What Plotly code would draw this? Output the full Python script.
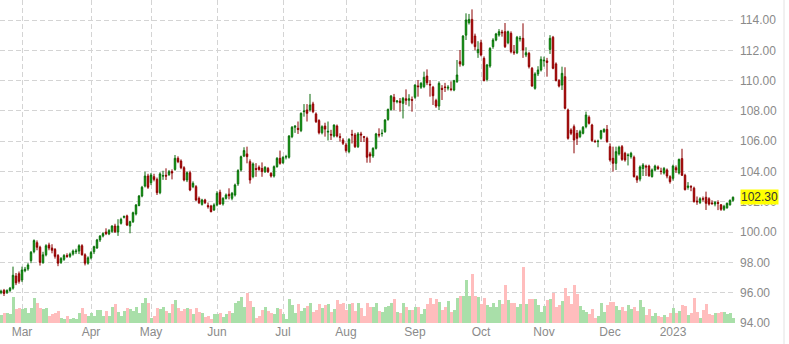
import pandas as pd
import plotly.graph_objects as go

# trading days (weekends and exchange holidays removed)
holidays = ["2022-04-15", "2022-12-26", "2023-01-02"]
dates = [d.strftime("%Y-%m-%d") for d in pd.bdate_range("2022-02-18", "2023-01-31")
         if d.strftime("%Y-%m-%d") not in holidays]

open_ = [96.00, 96.15, 96.00, 96.15, 96.30, 97.10, 97.25, 96.84, 97.45, 97.57,
         98.12, 98.71, 99.30, 99.00, 98.00, 98.50, 99.15, 98.95, 98.85, 98.45,
         98.00, 98.20, 98.45, 98.40, 98.55, 98.70, 98.75, 99.10, 98.50, 97.95,
         98.30, 98.70, 98.95, 99.48, 99.74, 100.00, 99.88, 100.05, 100.40, 100.00,
         100.58, 100.98, 101.07, 100.40, 100.69, 101.20, 101.76, 102.38, 103.04, 103.70,
         103.26, 103.66, 103.48, 102.60, 103.70, 103.75, 103.80, 104.00, 104.14, 104.87,
         104.69, 104.25, 103.44, 103.92, 103.00, 103.00, 102.23, 101.83, 102.12, 101.75,
         101.72, 101.46, 101.79, 102.63, 101.86, 102.23, 102.50, 102.23, 102.45, 103.18,
         104.10, 105.02, 105.16, 104.65, 103.66, 104.20, 104.28, 104.20, 103.99, 104.20,
         103.88, 103.70, 104.32, 104.87, 104.58, 104.95, 104.94, 106.30, 106.92, 106.85,
         106.70, 107.95, 108.06, 108.06, 108.46, 107.80, 107.36, 106.56, 107.00, 106.60,
         106.45, 106.34, 107.00, 106.30, 106.08, 105.75, 105.31, 106.45, 106.41, 105.64,
         106.48, 106.30, 106.19, 105.16, 105.02, 105.53, 106.45, 106.50, 106.63, 107.44,
         108.10, 108.90, 108.61, 108.65, 108.50, 108.80, 108.70, 108.75, 108.90, 109.65,
         109.56, 109.60, 110.30, 109.75, 109.56, 108.68, 108.32, 109.49, 109.58, 109.50,
         109.45, 109.38, 109.93, 111.25, 111.03, 113.00, 113.82, 114.04, 112.94, 111.84,
         112.50, 111.47, 110.08, 110.96, 112.24, 112.68, 113.01, 113.20, 113.23, 112.50,
         113.12, 111.90, 111.84, 112.75, 112.79, 111.69, 111.80, 110.81, 109.49, 110.44,
         110.70, 111.30, 111.30, 112.06, 112.86, 111.10, 110.00, 109.71, 110.26, 108.06,
         106.74, 106.96, 106.52, 106.30, 106.52, 106.96, 107.58, 107.07, 106.00, 105.97,
         106.19, 106.63, 106.78, 105.64, 104.87, 104.54, 105.16, 105.64, 105.20, 105.05,
         104.98, 104.94, 103.66, 103.50, 104.20, 104.35, 104.36, 103.66, 104.10, 104.30,
         104.02, 103.90, 104.10, 103.66, 103.55, 104.25, 103.90, 104.85, 103.75, 102.95,
         103.00, 102.90, 102.05, 101.95, 102.20, 102.30, 102.20, 101.92, 101.85, 101.95,
         101.80, 101.50, 101.60, 101.80, 102.10]

high = [96.20, 96.25, 96.22, 96.38, 97.72, 97.30, 97.40, 97.72, 97.70, 97.95,
        98.75, 99.52, 99.45, 99.10, 98.70, 99.20, 99.30, 99.20, 98.95, 98.55,
        98.35, 98.55, 98.60, 98.65, 98.85, 98.90, 99.20, 99.20, 98.60, 98.40,
        98.75, 99.10, 99.55, 99.80, 100.00, 100.25, 100.20, 100.45, 100.55, 100.85,
        100.95, 101.10, 101.15, 100.75, 101.35, 101.85, 102.45, 103.05, 103.99, 103.85,
        103.90, 103.85, 103.60, 103.95, 104.05, 104.21, 104.10, 104.14, 105.09, 105.00,
        104.80, 104.35, 104.00, 104.05, 103.35, 103.10, 102.35, 102.20, 102.20, 101.95,
        101.80, 101.90, 102.70, 102.80, 102.30, 102.55, 102.89, 102.65, 103.20, 104.15,
        105.05, 105.60, 105.64, 104.80, 104.60, 104.55, 104.40, 104.60, 104.35, 104.30,
        103.95, 104.40, 104.95, 105.38, 105.00, 105.10, 106.40, 107.00, 107.05, 107.30,
        107.90, 108.45, 108.45, 109.12, 108.60, 107.90, 107.45, 107.05, 107.22, 107.30,
        106.75, 107.10, 107.10, 106.52, 106.20, 105.90, 106.20, 106.75, 106.55, 106.60,
        106.62, 106.35, 106.30, 105.30, 105.60, 106.55, 106.85, 106.78, 107.45, 108.15,
        109.05, 109.12, 108.72, 108.85, 108.92, 109.42, 109.10, 108.95, 109.75, 110.04,
        109.90, 110.59, 110.74, 110.04, 109.65, 108.80, 109.95, 109.70, 109.85, 109.70,
        109.95, 110.05, 111.36, 112.02, 113.00, 114.44, 114.40, 114.70, 113.10, 112.60,
        112.70, 111.60, 111.10, 112.20, 112.80, 113.15, 113.40, 113.35, 113.80, 113.30,
        113.25, 112.35, 112.95, 112.95, 113.78, 112.20, 111.90, 110.90, 110.55, 110.95,
        111.60, 111.58, 111.50, 113.00, 112.95, 111.20, 110.10, 110.92, 110.88, 108.15,
        106.85, 107.10, 106.74, 106.75, 107.00, 107.95, 107.70, 107.15, 106.10, 106.10,
        106.75, 106.85, 107.07, 105.86, 105.64, 105.64, 105.70, 105.75, 105.30, 105.20,
        105.30, 105.05, 103.75, 104.40, 104.55, 104.45, 104.45, 104.20, 104.45, 104.40,
        104.25, 104.30, 104.20, 103.75, 104.45, 104.40, 104.85, 105.50, 103.85, 103.30,
        103.10, 103.00, 102.35, 102.30, 102.35, 102.67, 102.30, 102.10, 102.05, 102.10,
        101.85, 101.80, 101.95, 102.15, 102.35]

low = [95.90, 95.78, 95.92, 96.05, 96.20, 96.50, 96.60, 96.70, 97.35, 97.45,
       97.95, 98.60, 98.80, 97.79, 97.90, 98.40, 98.80, 98.60, 98.25, 97.75,
       97.90, 98.10, 98.30, 98.30, 98.45, 98.55, 98.55, 98.45, 97.80, 97.85,
       98.20, 98.55, 98.90, 99.35, 99.65, 99.80, 99.80, 99.95, 99.95, 99.75,
       100.50, 100.90, 100.40, 99.92, 100.60, 101.10, 101.70, 102.30, 102.95, 102.85,
       103.10, 103.35, 102.45, 102.50, 103.45, 103.44, 103.70, 103.48, 104.05, 104.55,
       104.15, 103.35, 103.30, 102.70, 102.90, 102.05, 101.85, 101.75, 101.85, 101.55,
       101.30, 101.40, 101.70, 101.80, 101.75, 102.15, 102.16, 102.10, 102.35, 103.05,
       104.00, 104.95, 104.54, 103.20, 103.55, 103.65, 104.05, 103.65, 103.90, 103.90,
       103.60, 103.60, 104.25, 104.45, 104.50, 104.80, 104.85, 106.20, 106.55, 106.48,
       106.60, 107.62, 107.30, 107.95, 107.85, 107.20, 106.45, 106.45, 106.30, 106.05,
       106.08, 106.25, 106.25, 105.98, 105.75, 105.25, 105.20, 105.85, 105.55, 105.55,
       105.95, 105.95, 104.58, 104.58, 104.90, 105.45, 106.25, 106.30, 106.55, 107.35,
       108.00, 108.05, 108.50, 107.95, 107.50, 108.40, 108.30, 107.95, 108.80, 108.94,
       109.45, 109.50, 109.70, 108.94, 108.39, 108.20, 108.05, 108.72, 109.25, 109.35,
       109.30, 109.30, 109.85, 110.92, 110.95, 112.68, 113.70, 112.40, 112.00, 111.50,
       111.60, 109.95, 109.95, 110.85, 112.10, 112.60, 112.90, 112.90, 112.15, 112.40,
       111.80, 111.70, 111.75, 112.58, 111.50, 111.55, 110.80, 109.60, 109.40, 110.30,
       110.60, 110.92, 110.26, 111.76, 110.75, 109.95, 109.55, 109.38, 108.10, 106.10,
       106.40, 105.20, 105.75, 106.20, 106.45, 106.85, 107.10, 105.95, 105.90, 105.60,
       106.10, 106.55, 105.90, 104.65, 103.99, 104.10, 105.05, 104.70, 104.65, 104.40,
       104.85, 103.60, 103.25, 103.35, 103.70, 103.70, 103.65, 103.60, 104.00, 104.10,
       103.80, 103.80, 103.55, 103.20, 103.40, 103.90, 103.80, 103.70, 102.75, 102.80,
       102.70, 101.95, 101.80, 101.85, 102.00, 101.46, 101.75, 101.80, 101.70, 101.45,
       101.40, 101.40, 101.55, 101.75, 102.00]

close = [96.10, 95.95, 96.15, 96.30, 97.15, 96.65, 96.75, 97.50, 97.55, 97.83,
         98.67, 99.44, 99.00, 98.00, 98.50, 99.10, 98.95, 98.80, 98.40, 97.95,
         98.25, 98.45, 98.40, 98.55, 98.75, 98.75, 99.10, 98.50, 97.95, 98.30,
         98.65, 99.04, 99.48, 99.74, 99.90, 99.90, 100.10, 100.40, 100.02, 100.40,
         100.84, 101.02, 100.47, 100.69, 101.28, 101.79, 102.38, 102.96, 103.70, 102.96,
         103.77, 103.48, 102.60, 103.84, 103.72, 103.70, 103.99, 103.90, 104.87, 104.65,
         104.25, 103.44, 103.92, 102.78, 103.22, 102.12, 101.94, 102.12, 101.94, 101.68,
         101.35, 101.79, 102.56, 101.86, 102.23, 102.45, 102.40, 102.56, 103.11, 104.06,
         104.98, 105.38, 104.98, 103.44, 104.50, 104.14, 104.14, 103.99, 104.28, 103.99,
         103.70, 104.32, 104.87, 104.54, 104.94, 104.98, 106.34, 106.92, 107.00, 106.78,
         107.84, 107.99, 107.84, 108.39, 107.95, 107.29, 106.56, 106.96, 106.80, 106.65,
         106.41, 107.07, 106.34, 106.26, 105.86, 105.38, 106.12, 106.41, 105.64, 106.48,
         106.41, 106.26, 104.94, 105.02, 105.53, 106.48, 106.41, 106.52, 107.40, 108.10,
         108.98, 108.61, 108.65, 108.55, 108.83, 108.70, 108.80, 108.70, 109.71, 109.60,
         109.82, 110.22, 109.86, 109.71, 109.00, 108.32, 109.82, 109.42, 109.55, 109.56,
         109.42, 110.00, 110.37, 111.10, 112.94, 114.00, 114.04, 112.50, 112.24, 112.06,
         111.69, 110.00, 111.03, 112.13, 112.68, 113.08, 113.23, 113.16, 112.24, 113.23,
         111.91, 111.84, 112.86, 112.79, 112.02, 111.84, 110.92, 109.64, 110.44, 110.70,
         111.40, 111.34, 111.20, 112.79, 110.81, 110.00, 109.64, 110.48, 108.17, 106.19,
         106.52, 106.08, 106.19, 106.63, 106.92, 107.73, 107.18, 106.04, 105.97, 106.00,
         106.69, 106.78, 105.97, 104.76, 104.54, 105.31, 105.60, 104.80, 104.76, 105.08,
         105.20, 103.66, 103.44, 104.30, 104.43, 104.30, 103.72, 104.10, 104.36, 104.20,
         104.00, 104.20, 103.70, 103.33, 104.36, 104.10, 104.80, 103.75, 102.80, 103.04,
         102.98, 102.01, 102.00, 102.20, 102.18, 101.90, 101.85, 101.88, 101.95, 101.90,
         101.50, 101.70, 101.90, 102.10, 102.30]

volume = [80, 100, 100, 87, 260, 137, 147, 137, 147, 100,
          147, 253, 203, 147, 137, 147, 70, 87, 103, 120,
          53, 43, 70, 43, 53, 43, 103, 147, 87, 70,
          103, 70, 127, 127, 70, 120, 70, 160, 187, 110,
          70, 120, 147, 137, 120, 160, 103, 203, 253, 203,
          53, 70, 147, 137, 160, 120, 103, 187, 227, 147,
          120, 137, 147, 137, 87, 147, 110, 103, 63, 70,
          37, 93, 93, 103, 63, 93, 120, 103, 203, 220,
          260, 160, 300, 220, 160, 53, 70, 127, 160, 120,
          100, 93, 147, 140, 93, 37, 237, 180, 100, 193,
          120, 147, 170, 203, 110, 127, 187, 153, 177, 193,
          110, 137, 230, 187, 203, 127, 187, 200, 120, 200,
          147, 70, 200, 160, 160, 203, 120, 110, 160, 170,
          200, 243, 110, 103, 200, 160, 130, 130, 160, 160,
          93, 137, 187, 253, 187, 243, 213, 130, 163, 220,
          110, 130, 253, 270, 270, 430, 270, 487, 270, 260,
          193, 247, 180, 160, 203, 160, 230, 187, 380, 230,
          203, 203, 160, 193, 563, 193, 237, 237, 237, 180,
          110, 170, 227, 237, 303, 160, 180, 220, 353, 270,
          187, 377, 293, 170, 127, 113, 87, 140, 53, 70,
          203, 113, 180, 213, 213, 170, 130, 160, 120, 180,
          137, 160, 120, 227, 160, 80, 137, 70, 100, 70,
          60, 80, 60, 100, 147, 100, 120, 180, 170, 80,
          100, 247, 110, 53, 130, 193, 87, 77, 103, 100,
          110, 110, 87, 103, 53]

tick_months = ["2022-03", "2022-04", "2022-05", "2022-06", "2022-07", "2022-08",
               "2022-09", "2022-10", "2022-11", "2022-12", "2023-01"]
tick_labels = ["Mar", "Apr", "May", "Jun", "Jul", "Aug", "Sep", "Oct", "Nov", "Dec", "2023"]
price_ticks = [94, 96, 98, 100, 102, 104, 106, 108, 110, 112, 114]
last_price = 102.30

idx = list(range(len(dates)))
tickvals = [next(i for i, d in enumerate(dates) if d.startswith(m)) for m in tick_months]
vol_colors = ["#a9dfa9" if c >= o else "#ffbdbd" for o, c in zip(open_, close)]

GRID = "#d4d4d4"
FONT = dict(family="Arial, Liberation Sans, sans-serif", size=12, color="#8a8a8a")

fig = go.Figure()
fig.add_trace(go.Bar(x=idx, y=volume, marker=dict(color=vol_colors, line=dict(width=0)),
                     width=1.0, yaxis="y", hoverinfo="skip", showlegend=False))
fig.add_trace(go.Candlestick(
    x=idx, open=open_, high=high, low=low, close=close, yaxis="y2",
    increasing=dict(line=dict(color="#0a6a0a", width=1), fillcolor="#11dd11"),
    decreasing=dict(line=dict(color="#8b0000", width=1), fillcolor="#dd0000"),
    whiskerwidth=0, showlegend=False))

fig.update_layout(
    width=789, height=344,
    margin=dict(l=0, r=54, t=0, b=21),
    paper_bgcolor="white", plot_bgcolor="white",
    font=FONT,
    bargap=0,
    xaxis=dict(range=[-1/3, 244 + 2/3], tickvals=tickvals, ticktext=tick_labels,
               showgrid=True, gridcolor=GRID, griddash="5px,3px", gridwidth=1,
               zeroline=False, showline=False, ticks="",
               rangeslider=dict(visible=False), tickfont=FONT),
    yaxis=dict(range=[0, 3230], visible=False, showgrid=False, fixedrange=True),
    yaxis2=dict(overlaying="y", side="right", range=[94, 115.32],
                tickvals=price_ticks, tickformat=".2f",
                showgrid=True, gridcolor=GRID, griddash="5px,3px", gridwidth=1,
                zeroline=False, showline=False, ticks="", tickfont=FONT,
                ticklabelstandoff=4),
)

fig.add_shape(type="line", xref="paper", yref="paper",
              x0=784/735, x1=784/735, y0=-21/323, y1=1,
              line=dict(color="#e2e2e2", width=1))

fig.add_annotation(xref="paper", yref="y2", x=1, y=last_price, xanchor="left",
                   xshift=5, text=f"{last_price:.2f}", showarrow=False,
                   bgcolor="#ffff00", borderpad=0,
                   font=dict(family="Arial, Liberation Sans, sans-serif", size=12, color="#333333"))

fig.write_html("out.html")
